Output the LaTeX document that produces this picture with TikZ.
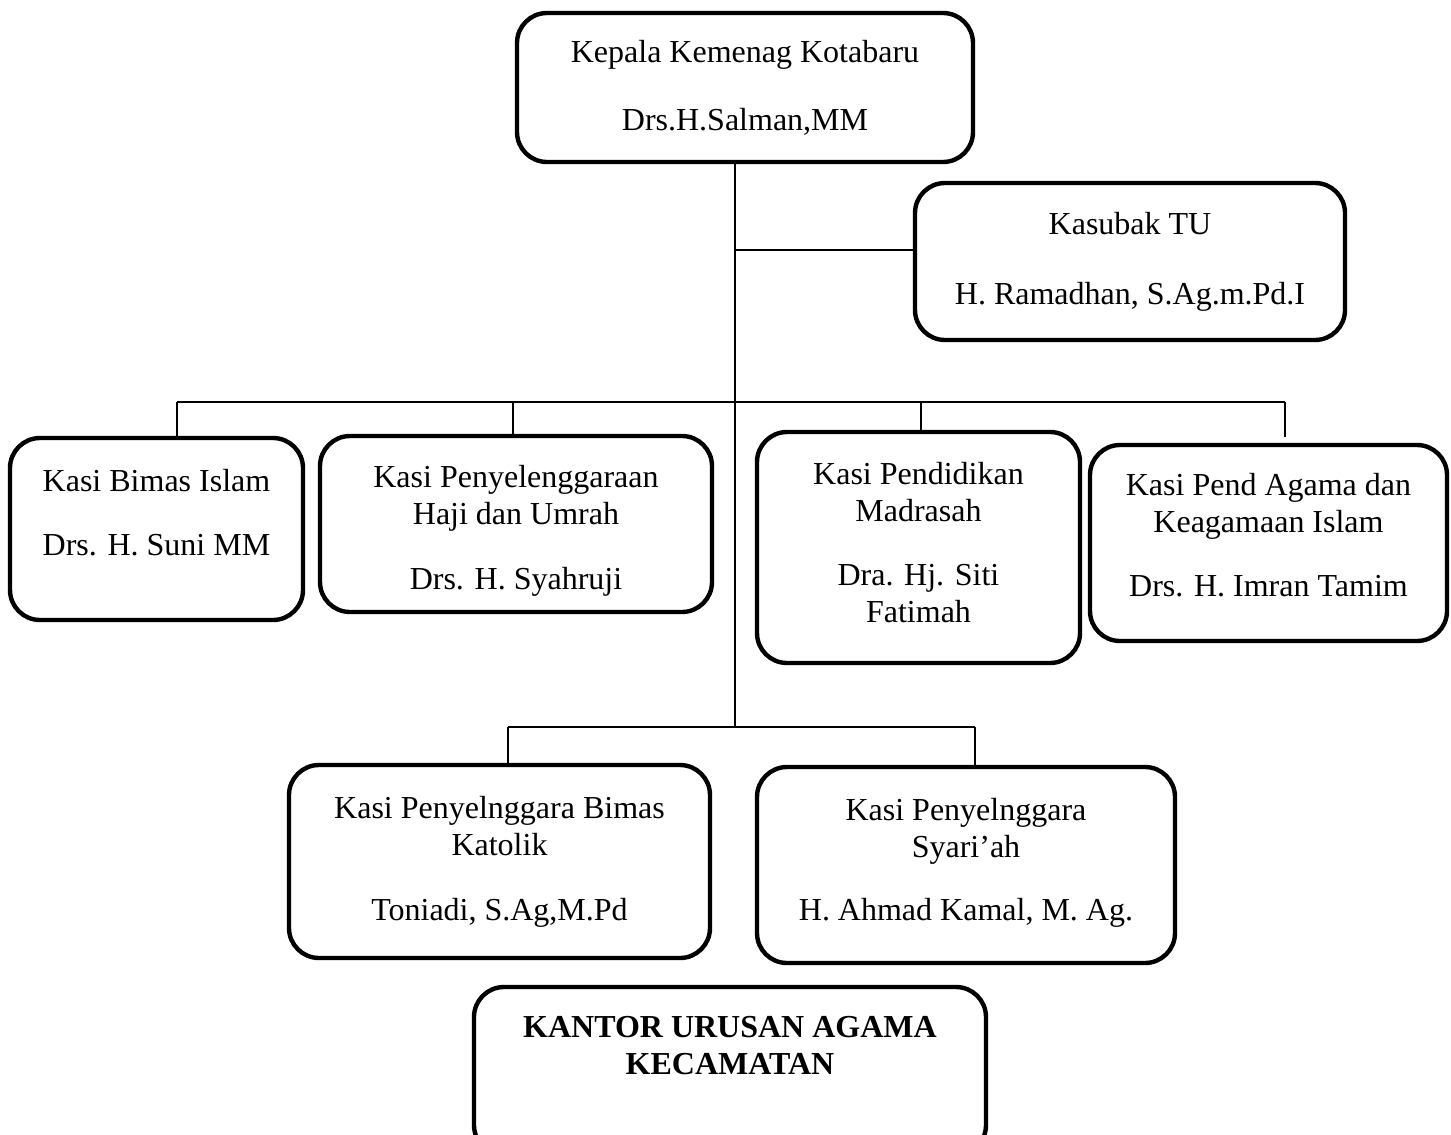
\documentclass[tikz,border=0pt]{standalone}
\usepackage{fontspec}
\setmainfont{Liberation Serif}
\usetikzlibrary{positioning}

\begin{document}
\begin{tikzpicture}[
  x=0.5pt, y=-0.5pt,
  font=\fontsize{16}{18.5}\selectfont,
  box/.style={draw, line width=2.2pt, rounded corners=15pt, align=center, inner sep=0pt},
  link/.style={line width=1pt}
]
\useasboundingbox (0,0) rectangle (1451,1135);

% Boxes
\node[box, minimum width=228pt, minimum height=74.5pt] (kepala) at (745,87.5)
  {Kepala Kemenag Kotabaru\\[15.5pt]Drs.H.Salman,MM};
\node[box, minimum width=215pt, minimum height=78.5pt] (kasubak) at (1130,261.5)
  {Kasubak TU\\[16.5pt]H. Ramadhan, S.Ag.m.Pd.I\rule[-2pt]{0pt}{0pt}};

\node[box, minimum width=146.5pt, minimum height=91pt] (bimas) at (156.5,529)
  {Kasi Bimas Islam\\[13.5pt]Drs. H. Suni MM\rule[-17pt]{0pt}{0pt}};
\node[box, minimum width=196pt, minimum height=88pt] (haji) at (516,524)
  {\rule{0pt}{18pt}Kasi Penyelenggaraan\\Haji dan Umrah\\[14pt]Drs. H. Syahruji};
\node[box, minimum width=161.5pt, minimum height=115.5pt] (madrasah) at (918.5,547.5)
  {Kasi Pendidikan\\Madrasah\\[13.5pt]Dra. Hj. Siti\\Fatimah\rule[-5pt]{0pt}{0pt}};
\node[box, minimum width=178.5pt, minimum height=98pt] (pend) at (1268.5,543)
  {Kasi Pend Agama dan\\Keagamaan Islam\\[13.5pt]Drs. H. Imran Tamim\rule[-8pt]{0pt}{0pt}};

\node[box, minimum width=210.5pt, minimum height=96.5pt] (katolik) at (499.5,861.5)
  {Kasi Penyelnggara Bimas\\Katolik\\[14pt]Toniadi, S.Ag,M.Pd};
\node[box, minimum width=209pt, minimum height=98pt] (syariah) at (966,865)
  {Kasi Penyelnggara\\Syari'ah\\[13pt]H. Ahmad Kamal, M. Ag.\rule[-6pt]{0pt}{0pt}};

\node[box, minimum width=256pt, minimum height=84pt] (kua) at (730,1071)
  {\bfseries KANTOR URUSAN AGAMA\\\bfseries KECAMATAN\rule[-26pt]{0pt}{0pt}};

% Junction points
\coordinate (hub) at (735,727);
\coordinate (tu) at (735,250);
\coordinate (busL) at (177,402);
\coordinate (busM) at (735,402);
\coordinate (busR) at (1285,402);
\coordinate (busKL) at (508,727);
\coordinate (busKR) at (975,727);

% Trunk and branches
\draw[link] (hub |- kepala.south) -- (hub);
\draw[link] (tu) -- (tu -| kasubak.west);

\draw[link] (busL) -- (busR);
\draw[link] (busL) -- (busL |- bimas.north);
\draw[link] (haji.north |- busM) ++(-3,0) -- ([xshift=-1.5pt]haji.north);
\draw[link] (madrasah.north |- busM) ++(2.5,0) -- ([xshift=1.25pt]madrasah.north);
\draw[link] (busR) -- ++(0,35);

\draw[link] (busKL) -- (busKR);
\draw[link] (busKL) -- (busKL |- katolik.north);
\draw[link] (busKR) -- (busKR |- syariah.north);

\end{tikzpicture}
\end{document}
